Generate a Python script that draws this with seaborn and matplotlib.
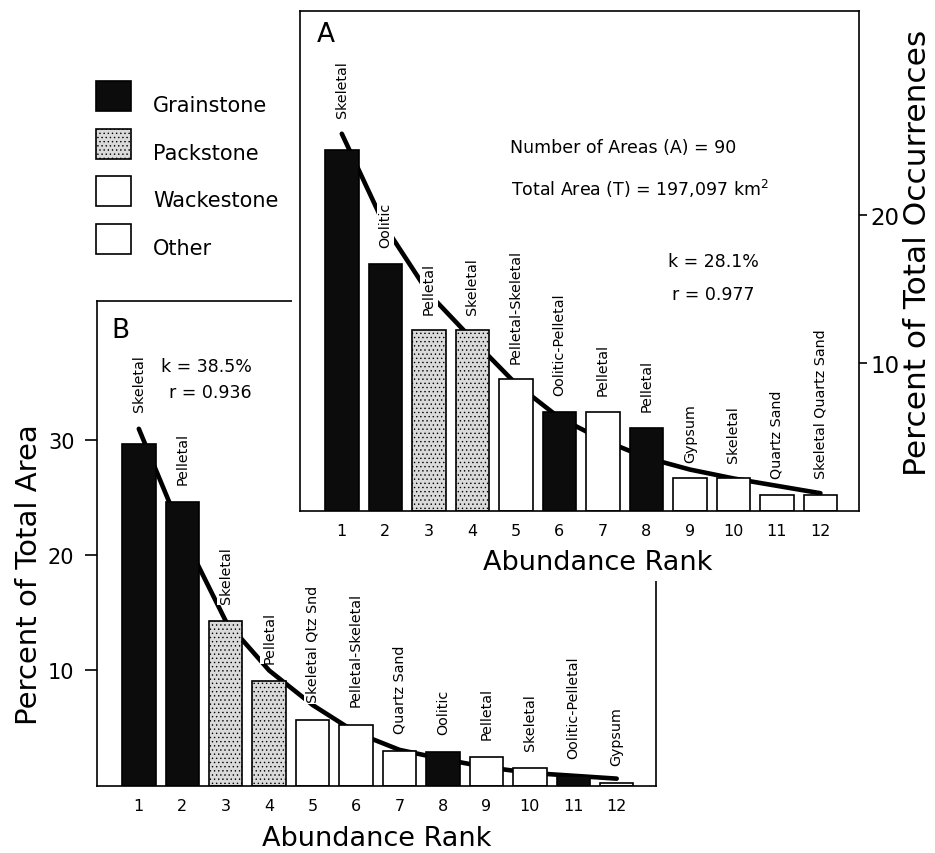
import matplotlib
matplotlib.use("Agg")
import matplotlib.pyplot as plt
import seaborn as sns
import pandas as pd
from matplotlib.patches import Patch, Rectangle

# ---------------- data ----------------
ranks = list(range(1, 13))
tick_labels = [str(r) for r in ranks]
textures = ["Grainstone", "Packstone", "Wackestone", "Other"]

# Panel A: percent of total occurrences
a_labels = ["Skeletal", "Oolitic", "Pelletal", "Skeletal", "Pelletal-Skeletal",
            "Oolitic-Pelletal", "Pelletal", "Pelletal", "Gypsum", "Skeletal",
            "Quartz Sand", "Skeletal Quartz Sand"]
a_texture = ["Grainstone", "Grainstone", "Packstone", "Packstone", "Wackestone",
             "Grainstone", "Wackestone", "Grainstone", "Other", "Wackestone",
             "Other", "Other"]
a_values = [24.4, 16.7, 12.2, 12.2, 8.9, 6.7, 6.7, 5.6, 2.2, 2.2, 1.1, 1.1]
a_curve = [25.5, 19.2, 14.7, 11.6, 8.6, 6.3, 4.8, 3.6, 2.8, 2.2, 1.7, 1.2]

# Panel B: percent of total area
b_labels = ["Skeletal", "Pelletal", "Skeletal", "Pelletal", "Skeletal Qtz Snd",
            "Pelletal-Skeletal", "Quartz Sand", "Oolitic", "Pelletal", "Skeletal",
            "Oolitic-Pelletal", "Gypsum"]
b_texture = ["Grainstone", "Grainstone", "Packstone", "Packstone", "Other",
             "Wackestone", "Other", "Grainstone", "Wackestone", "Wackestone",
             "Grainstone", "Other"]
b_values = [29.7, 24.6, 14.3, 9.1, 5.7, 5.3, 3.0, 2.9, 2.5, 1.5, 0.85, 0.2]
b_curve = [31.0, 21.9, 14.3, 10.0, 7.0, 4.6, 3.1, 2.3, 1.6, 1.1, 0.85, 0.6]

# ---------------- style ----------------
sns.set_theme(style="white")
plt.rcParams["font.family"] = ["DejaVu Sans"]
plt.rcParams["hatch.linewidth"] = 0.5
for key in ["text.color", "axes.labelcolor", "xtick.color", "ytick.color",
            "axes.edgecolor"]:
    plt.rcParams[key] = "black"

fill = {"Grainstone": "#0c0c0c", "Packstone": "#dadada",
        "Wackestone": "#ffffff", "Other": "#ffffff"}
hatches = {"Grainstone": "", "Packstone": "....", "Wackestone": "", "Other": ""}

W, H = 935, 854
fig = plt.figure(figsize=(W / 100, H / 100), dpi=100)
axB = fig.add_axes([0.1034, 0.079, 0.598, 0.5673])
axA = fig.add_axes([0.3209, 0.4005, 0.598, 0.5855])
axB.set_zorder(0)
axA.set_zorder(1)
cover = Rectangle((292 / W, 1 - 582 / H), 1 - 292 / W, 582 / H,
                  transform=fig.transFigure, facecolor="white",
                  edgecolor="none", zorder=0.5)
fig.add_artist(cover)


def panel(ax, values, curve, labels, texture, ylim, xlim, offset):
    df = pd.DataFrame({"rank": ranks, "value": values, "curve": curve,
                       "texture": texture, "label": labels})
    sns.barplot(data=df, x="rank", y="value", hue="texture",
                hue_order=textures, palette=fill, native_scale=True,
                width=0.77, dodge=False, edgecolor="black", linewidth=1.2,
                saturation=1, legend=False, ax=ax, zorder=2)
    for p in ax.patches:
        fc = p.get_facecolor()
        if abs(fc[0] - 0xda / 255) < 0.01:
            p.set_hatch(hatches["Packstone"])
    sns.lineplot(data=df, x="rank", y="curve", color="black", lw=3.3,
                 ax=ax, zorder=1.5)
    for i in range(len(ranks)):
        base = max(values[i], curve[i]) if i == 0 else values[i]
        ax.annotate(labels[i], (ranks[i], base), xytext=(0, offset),
                    textcoords="offset points", rotation=90, ha="center",
                    va="bottom", fontsize=10.3, color="black", zorder=4,
                    bbox=dict(boxstyle="square,pad=0.12", fc="white",
                              ec="none"))
    ax.set_xlim(*xlim)
    ax.set_ylim(*ylim)
    ax.set_xticks(ranks, tick_labels)
    ax.tick_params(axis="x", length=0, pad=9, labelsize=11.5)
    for s in ax.spines.values():
        s.set_visible(True)
        s.set_color("black")
        s.set_linewidth(1.2)
    ax.set_facecolor("white")


panel(axA, a_values, a_curve, a_labels, a_texture, (0, 33.8), (0.04, 12.89), 12)
panel(axB, b_values, b_curve, b_labels, b_texture, (0, 42.1), (0.03, 12.9), 13)

# Axis A (right y axis)
axA.yaxis.tick_right()
axA.yaxis.set_label_position("right")
axA.set_yticks([10, 20])
axA.tick_params(axis="y", direction="out", length=6, width=1.2, pad=2,
                labelsize=16.5, right=True, left=False)
axA.set_xlabel("Abundance Rank", fontsize=19.5)
axA.xaxis.set_label_coords(0.533, -0.076)
axA.set_ylabel("Percent of Total Occurrences", fontsize=22.5)
axA.yaxis.set_label_coords(1.079, 0.518)

axA.text(0.03, 0.98, "A", transform=axA.transAxes, fontsize=19,
         ha="left", va="top")
axA.text(0.578, 0.728, "Number of Areas (A) = 90", transform=axA.transAxes,
         fontsize=12.5, ha="center", va="center")
axA.text(0.608, 0.646, "Total Area (T) = 197,097 km$^2$",
         transform=axA.transAxes, fontsize=12.5, ha="center", va="center")
axA.text(0.739, 0.500, "k = 28.1%", transform=axA.transAxes,
         fontsize=12.5, ha="center", va="center")
axA.text(0.739, 0.434, "r = 0.977", transform=axA.transAxes,
         fontsize=12.5, ha="center", va="center")

# Axis B (left y axis)
axB.set_yticks([10, 20, 30])
axB.tick_params(axis="y", direction="out", length=9, width=1.2, pad=7,
                labelsize=15, left=True)
axB.set_xlabel("Abundance Rank", fontsize=19.5)
axB.xaxis.set_label_coords(0.5, -0.082)
axB.set_ylabel("Percent of Total Area", fontsize=21)
axB.yaxis.set_label_coords(-0.096, 0.4365)

axB.text(0.027, 0.967, "B", transform=axB.transAxes, fontsize=19,
         ha="left", va="top")
axB.text(0.197, 0.866, "k = 38.5%", transform=axB.transAxes,
         fontsize=12.5, ha="center", va="center")
axB.text(0.203, 0.812, "r = 0.936", transform=axB.transAxes,
         fontsize=12.5, ha="center", va="center")

# Legend (square keys with the text baseline at the key's lower edge)
key_w, key_h, step = 35, 30, 47.7
for i, t in enumerate(textures):
    top = 82 + i * step
    fig.add_artist(Rectangle((96 / W, 1 - (top + key_h) / H), key_w / W,
                             key_h / H, transform=fig.transFigure,
                             facecolor=fill[t], edgecolor="black",
                             hatch=hatches[t], linewidth=1.2, zorder=5))
    fig.text(153 / W, 1 - (top + key_h) / H, t, fontsize=15,
             ha="left", va="baseline", zorder=5)

fig.savefig("out.png", dpi=100, facecolor="white")
